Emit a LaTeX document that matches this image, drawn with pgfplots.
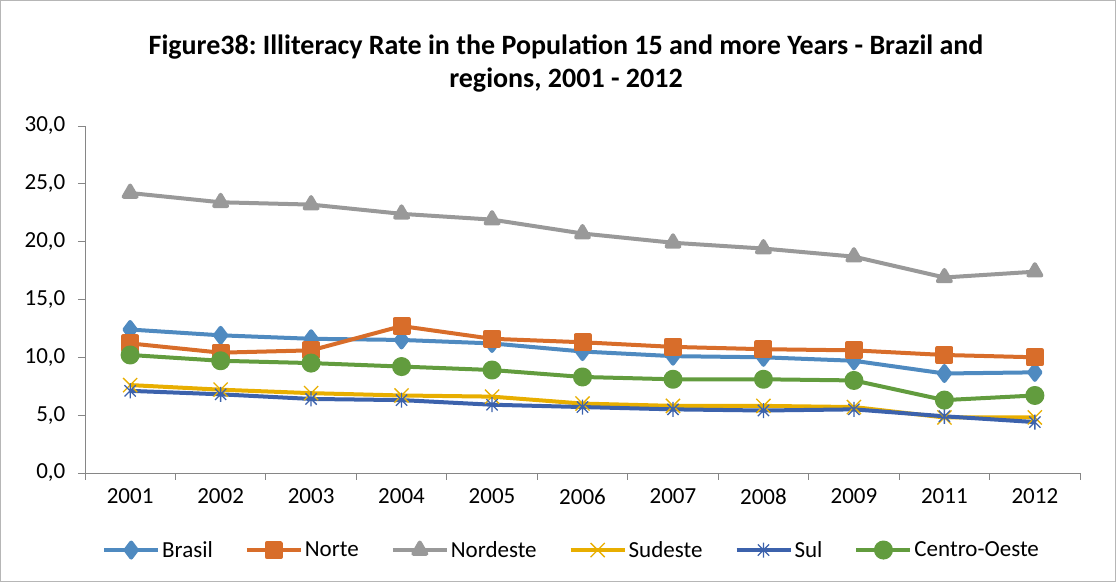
\documentclass[border=0pt]{standalone}
\usepackage{pgfplots}
\pgfplotsset{compat=1.18}
\usepackage{fontspec}
\setmainfont{Carlito}
\frenchspacing
\definecolor{cBrasil}{HTML}{4F8AC0}
\definecolor{cNorte}{HTML}{D86D2A}
\definecolor{cNordeste}{HTML}{999999}
\definecolor{cSudeste}{HTML}{E8AE00}
\definecolor{cSul}{HTML}{3C62AC}
\definecolor{cCO}{HTML}{629C3E}
\definecolor{axgray}{HTML}{868686}
\pgfdeclareplotmark{excelstar}{%
  \pgfpathmoveto{\pgfqpoint{0pt}{\pgfplotmarksize}}%
  \pgfpathlineto{\pgfqpoint{0pt}{-\pgfplotmarksize}}%
  \pgfpathmoveto{\pgfqpoint{-0.75\pgfplotmarksize}{-0.75\pgfplotmarksize}}%
  \pgfpathlineto{\pgfqpoint{0.75\pgfplotmarksize}{0.75\pgfplotmarksize}}%
  \pgfpathmoveto{\pgfqpoint{-0.75\pgfplotmarksize}{0.75\pgfplotmarksize}}%
  \pgfpathlineto{\pgfqpoint{0.75\pgfplotmarksize}{-0.75\pgfplotmarksize}}%
  \pgfusepathqstroke}
\begin{document}
\begin{tikzpicture}[x=1pt,y=1pt]
\draw[draw=axgray!60, line width=0.8pt] (0.5,0.5) rectangle (1115.5,581.5);
\node[font=\fontsize{28}{33}\selectfont\bfseries, align=center] at (566,518) {Figure38: Illiteracy Rate in the Population 15 and more Years - Brazil and\\regions, 2001 - 2012};
\begin{axis}[
  at={(85pt,109pt)}, anchor=south west,
  scale only axis, width=995pt, height=347pt,
  xmin=-0.5, xmax=10.5, ymin=0, ymax=30,
  ytick={0,5,...,30},
  xtick={0,...,10},
  xticklabels={2001,2002,2003,2004,2005,2006,2007,2008,2009,2011,2012},
  minor xtick={-0.5,0.5,...,10.5},
  major x tick style={draw=none},
  tick align=outside,
  major tick length=7pt, minor tick length=7pt,
  axis x line*=bottom, axis y line*=left,
  axis line style={draw=axgray, line width=0.8pt},
  every tick/.style={draw=axgray, line width=0.8pt},
  tick label style={font=\fontsize{23}{27}\selectfont},
  /pgf/number format/assume math mode=true,
  yticklabel style={xshift=-9pt, /pgf/number format/.cd, fixed, fixed zerofill, precision=1, use comma},
  xticklabel style={yshift=-5pt},
  legend style={at={(0.489,-0.222)}, anchor=center, draw=none, legend columns=-1,
    font=\fontsize{23}{27}\selectfont, inner sep=0pt,
    /tikz/every even column/.append style={column sep=30pt}},
  legend image code/.code={\draw[#1, mark repeat=2, mark phase=2] plot coordinates {(0pt,0pt) (27pt,0pt) (54pt,0pt)};},
  every axis plot/.append style={line width=4pt, line join=round, mark options={solid}},
]
\addplot[color=cBrasil, mark=diamond*, mark size=7.5pt] coordinates {(0,12.4)(1,11.9)(2,11.6)(3,11.5)(4,11.2)(5,10.5)(6,10.1)(7,10.0)(8,9.7)(9,8.6)(10,8.7)};
\addlegendentry{Brasil}
\addplot[color=cNorte, mark=square*, mark size=7pt] coordinates {(0,11.2)(1,10.4)(2,10.6)(3,12.7)(4,11.6)(5,11.3)(6,10.9)(7,10.7)(8,10.6)(9,10.2)(10,10.0)};
\addlegendentry{Norte}
\addplot[color=cNordeste, mark=triangle*, mark size=7.5pt] coordinates {(0,24.2)(1,23.4)(2,23.2)(3,22.4)(4,21.9)(5,20.7)(6,19.9)(7,19.4)(8,18.7)(9,16.9)(10,17.4)};
\addlegendentry{Nordeste}
\addplot[color=cSudeste, mark=x, mark size=10pt, mark options={line width=1.3pt}] coordinates {(0,7.6)(1,7.2)(2,6.9)(3,6.7)(4,6.6)(5,6.0)(6,5.8)(7,5.8)(8,5.7)(9,4.8)(10,4.8)};
\addlegendentry{Sudeste}
\addplot[color=cSul, mark=excelstar, mark size=7.5pt, mark options={line width=1.3pt}] coordinates {(0,7.1)(1,6.8)(2,6.4)(3,6.3)(4,5.9)(5,5.7)(6,5.5)(7,5.4)(8,5.5)(9,4.9)(10,4.4)};
\addlegendentry{Sul}
\addplot[color=cCO, mark=*, mark size=7.5pt] coordinates {(0,10.2)(1,9.7)(2,9.5)(3,9.2)(4,8.9)(5,8.3)(6,8.1)(7,8.1)(8,8.0)(9,6.3)(10,6.7)};
\addlegendentry{Centro-Oeste}
\end{axis}
\end{tikzpicture}
\end{document}
